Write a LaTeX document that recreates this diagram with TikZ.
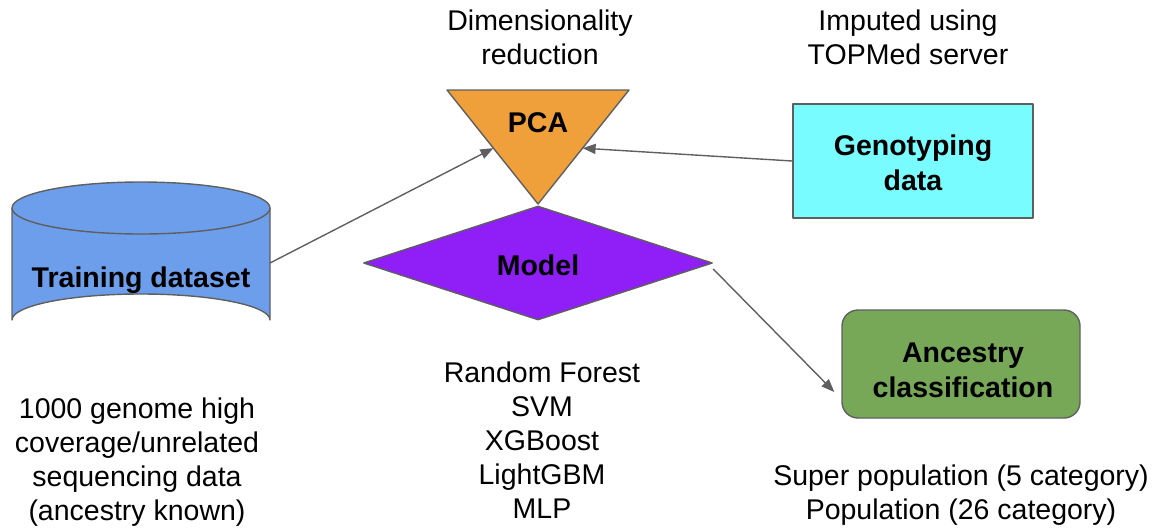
\documentclass[tikz,border=0pt]{standalone}
\usepackage{fontspec}
\setmainfont{Liberation Sans}
\usetikzlibrary{arrows.meta,calc,shapes.geometric}
\definecolor{cylblue}{HTML}{6D9EEB}
\definecolor{pcaorange}{HTML}{F0A03A}
\definecolor{modelpurple}{HTML}{8F1EF7}
\definecolor{genocyan}{HTML}{78FCFF}
\definecolor{ancgreen}{HTML}{76A857}
\definecolor{edgegray}{HTML}{5F5F5F}
\begin{document}
\begin{tikzpicture}[x=1pt,y=-1pt,
  shapeline/.style={draw=edgegray,line width=1.4pt,line join=round},
  conn/.style={draw=edgegray,line width=1.4pt,-{Triangle[length=13pt,width=10pt]}},
  boldlabel/.style={font=\fontsize{28.5}{35}\selectfont\bfseries,align=center,inner sep=0pt},
  note/.style={font=\fontsize{28.5}{34}\selectfont,align=center,inner sep=0pt,anchor=base}]
\useasboundingbox (0,0) rectangle (1155,528);

% training data cylinder
\path[shapeline,fill=cylblue]
  (12,208) -- (12,320) arc[start angle=180,end angle=360,x radius=129,y radius=26]
  -- (270,208) arc[start angle=0,end angle=-180,x radius=129,y radius=26] -- cycle;
\draw[shapeline] (12,208) arc[start angle=180,end angle=0,x radius=129,y radius=26];
\node[boldlabel] (train) at (141,280) {Training dataset};
\coordinate (trainout) at (270,263);

% PCA triangle
\coordinate (tl) at (447,90);
\coordinate (tr) at (629,90);
\coordinate (tb) at (538,204);
\path[shapeline,fill=pcaorange] (tl) -- (tr) -- (tb) -- cycle;
\node[boldlabel] (pca) at (538,123) {PCA};
\coordinate (pcain) at ($(tl)!0.51!(tb)$);
\coordinate (pcainr) at ($(tr)!0.51!(tb)$);

% model diamond
\node[shapeline,fill=modelpurple,diamond,aspect=3.06,minimum width=349pt,minimum height=114pt,inner sep=0pt] (model) at (538,263) {};
\node[boldlabel] (modeltxt) at (538,265) {Model};

% genotyping box
\node[shapeline,fill=genocyan,minimum width=240pt,minimum height=114pt,inner sep=0pt] (geno) at (913,161) {};
\node[boldlabel] (genotxt) at (913,163) {Genotyping\\data};

% ancestry box
\node[shapeline,fill=ancgreen,rounded corners=16pt,minimum width=238pt,minimum height=108pt,inner sep=0pt] (anc) at (961,364) {};
\node[boldlabel] (anctxt) at (963,370) {Ancestry\\classification};

% connectors
\draw[conn] (trainout) -- (pcain);
\draw[conn] (geno.west) -- (pcainr);
\draw[conn] ($(model.east)+(0,6)$) -- ($(anc.west)+(-7,28)$);

% annotations (anchored at the baseline of their last line)
\node[note] (dimred) at (540,64) {Dimensionality\\reduction};
\node[note] (imput) at (908,64) {Imputed using\\TOPMed server};
\node[note] (kg) at (137,520) {1000 genome high\\coverage/unrelated\\sequencing data\\(ancestry known)};
\node[note] (algos) at (542,518) {Random Forest\\SVM\\XGBoost\\LightGBM\\MLP};
\node[note] (pops) at (961,519) {Super population (5 category)\\Population (26 category)};
\end{tikzpicture}
\end{document}
